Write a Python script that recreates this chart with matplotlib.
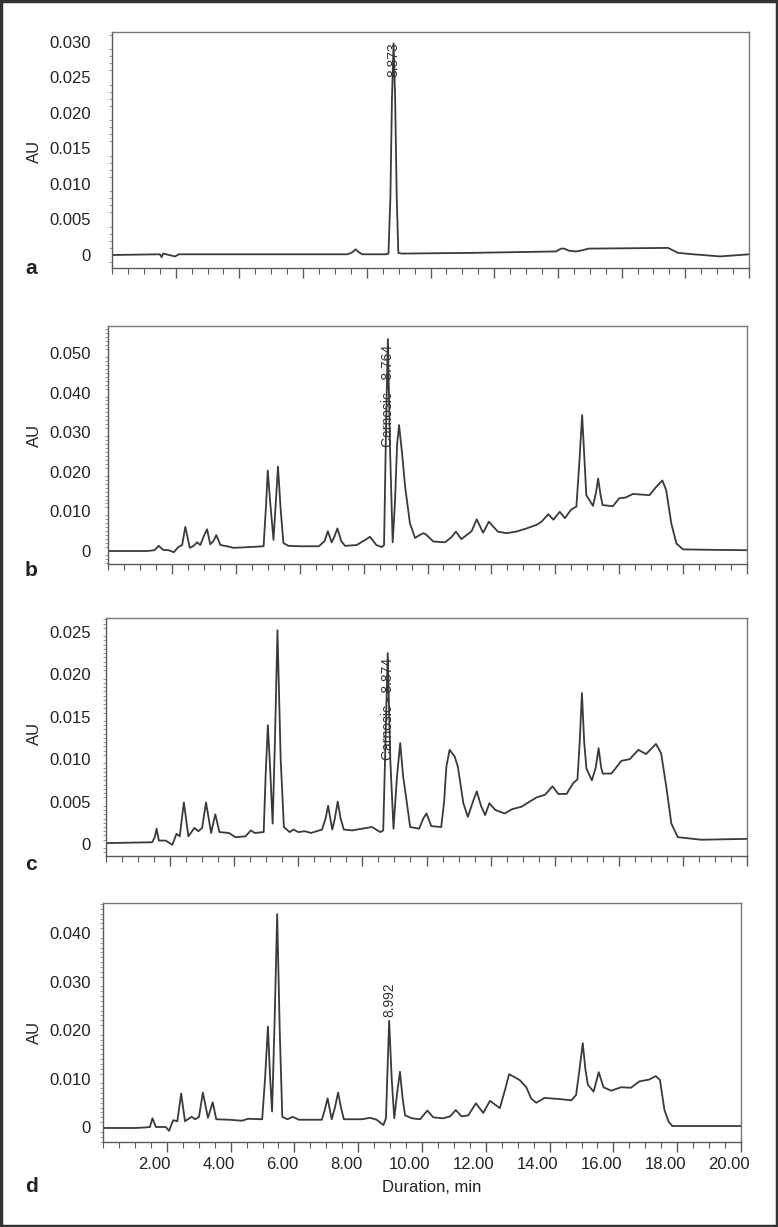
import matplotlib
matplotlib.use("Agg")
import matplotlib.pyplot as plt
from matplotlib.patches import Rectangle
from matplotlib.ticker import MultipleLocator, FixedLocator, FuncFormatter
from matplotlib.transforms import ScaledTranslation

# ---- data (time in min, absorbance in AU) ----
t_a = [0, 1.5, 1.56, 1.6, 1.7, 1.98, 2.1, 7.4, 7.55, 7.65, 7.75, 7.86, 8.6, 8.68,
       8.74, 8.79, 8.84, 8.89, 8.94, 8.99, 9.1, 11.3, 13.94, 14.1, 14.2, 14.35,
       14.57, 14.8, 14.96, 17.46, 17.77, 18.25, 19.1, 20.0]
au_a = [0, 0.0001, -0.0003, 0.0002, 0.0001, -0.0002, 0.0001, 0.0001, 0.0004, 0.0008,
        0.0004, 0.0001, 0.0001, 0.0002, 0.008, 0.022, 0.0298, 0.022, 0.008, 0.0003,
        0.0002, 0.0003, 0.0005, 0.0009, 0.0009, 0.0006, 0.0005, 0.0007, 0.0009,
        0.001, 0.0003, 0.0001, -0.0002, 0.0001]

t_b = [0, 1.22, 1.45, 1.59, 1.72, 1.9, 2.06, 2.2, 2.32, 2.42, 2.56, 2.68, 2.79, 2.89,
       2.99, 3.10, 3.2, 3.30, 3.39, 3.52, 3.73, 3.93, 4.45, 4.87, 4.95, 5.0, 5.08,
       5.18, 5.25, 5.32, 5.40, 5.49, 5.65, 6.0, 6.6, 6.78, 6.88, 7.0, 7.08, 7.18,
       7.3, 7.42, 7.78, 8.05, 8.2, 8.4, 8.57, 8.64, 8.70, 8.76, 8.83, 8.91, 8.98,
       9.05, 9.11, 9.2, 9.3, 9.45, 9.61, 9.75, 9.87, 9.95, 10.18, 10.55, 10.75,
       10.89, 11.06, 11.38, 11.54, 11.74, 11.92, 12.2, 12.47, 12.78, 13.1, 13.41,
       13.57, 13.78, 13.94, 14.14, 14.3, 14.5, 14.66, 14.75, 14.84, 14.92, 14.97,
       15.18, 15.28, 15.34, 15.42, 15.48, 15.8, 16.0, 16.2, 16.43, 16.95, 17.16,
       17.35, 17.47, 17.63, 17.79, 18.0, 18.9, 20.0]
au_b = [0, 0, 0.0002, 0.0013, 0.0003, 0.0002, -0.0003, 0.001, 0.0015, 0.0061, 0.0008,
        0.0013, 0.0022, 0.0015, 0.0036, 0.0055, 0.0017, 0.0025, 0.0040, 0.0015,
        0.0012, 0.0008, 0.001, 0.0012, 0.012, 0.0203, 0.012, 0.0028, 0.012, 0.0213,
        0.011, 0.002, 0.0013, 0.0012, 0.0012, 0.0025, 0.0050, 0.0022, 0.0035, 0.0057,
        0.0025, 0.0013, 0.0015, 0.0028, 0.0036, 0.0015, 0.001, 0.0015, 0.03, 0.0535,
        0.025, 0.0022, 0.012, 0.027, 0.0318, 0.025, 0.0162, 0.007, 0.0033, 0.004,
        0.0045, 0.0042, 0.0024, 0.0022, 0.0035, 0.0049, 0.0030, 0.005, 0.0080,
        0.0046, 0.0074, 0.0049, 0.0045, 0.0049, 0.0057, 0.0066, 0.0074, 0.0093,
        0.0079, 0.0099, 0.0083, 0.0105, 0.0112, 0.022, 0.0343, 0.022, 0.0141, 0.0114,
        0.015, 0.0183, 0.014, 0.0116, 0.0113, 0.0133, 0.0135, 0.0144, 0.0141, 0.0162,
        0.0178, 0.0154, 0.0070, 0.0019, 0.0004, 0.0003, 0.0002]

t_c = [0, 1.44, 1.52, 1.58, 1.65, 1.86, 2.07, 2.2, 2.3, 2.43, 2.57, 2.76, 2.88, 3.0,
       3.12, 3.28, 3.41, 3.54, 3.83, 4.04, 4.35, 4.52, 4.64, 4.92, 4.98, 5.05, 5.12,
       5.2, 5.27, 5.35, 5.45, 5.55, 5.73, 5.85, 6.0, 6.2, 6.4, 6.74, 6.85, 6.93,
       7.06, 7.14, 7.23, 7.32, 7.42, 7.68, 7.99, 8.3, 8.56, 8.65, 8.72, 8.79, 8.87,
       8.97, 9.08, 9.18, 9.27, 9.36, 9.49, 9.77, 9.9, 10.0, 10.15, 10.46, 10.55,
       10.62, 10.72, 10.88, 10.98, 11.15, 11.29, 11.45, 11.57, 11.7, 11.83, 11.96,
       12.15, 12.44, 12.67, 12.97, 13.18, 13.44, 13.7, 13.93, 14.11, 14.37, 14.58,
       14.71, 14.78, 14.85, 14.92, 14.99, 15.16, 15.28, 15.37, 15.45, 15.5, 15.77,
       16.08, 16.34, 16.61, 16.85, 17.16, 17.32, 17.48, 17.64, 17.84, 18.57, 20.0]
au_c = [0.0001, 0.0002, 0.0008, 0.0018, 0.0004, 0.0004, -0.0001, 0.0012, 0.0009,
        0.0049, 0.0009, 0.0019, 0.0015, 0.0019, 0.0049, 0.0013, 0.0035, 0.0014,
        0.0013, 0.0008, 0.0009, 0.0016, 0.0013, 0.0014, 0.008, 0.0140, 0.009, 0.0024,
        0.012, 0.0252, 0.010, 0.002, 0.0014, 0.0017, 0.0014, 0.0015, 0.0013, 0.0017,
        0.003, 0.0045, 0.0017, 0.003, 0.0050, 0.003, 0.0017, 0.0016, 0.0018, 0.002,
        0.0014, 0.0016, 0.012, 0.0225, 0.010, 0.0018, 0.008, 0.0119, 0.008, 0.0056,
        0.002, 0.0018, 0.003, 0.0036, 0.0021, 0.002, 0.005, 0.0091, 0.0111, 0.0103,
        0.0091, 0.0048, 0.0032, 0.005, 0.0062, 0.0045, 0.0034, 0.0048, 0.0040,
        0.0036, 0.0041, 0.0044, 0.0049, 0.0055, 0.0058, 0.0068, 0.0059, 0.0059,
        0.0072, 0.0076, 0.012, 0.0178, 0.012, 0.0089, 0.0075, 0.009, 0.0113, 0.009,
        0.0083, 0.0083, 0.0098, 0.0100, 0.0111, 0.0106, 0.0118, 0.0107, 0.0068,
        0.0024, 0.0008, 0.0005, 0.0006]

t_d = [0, 1.03, 1.3, 1.47, 1.55, 1.66, 1.97, 2.07, 2.2, 2.33, 2.45, 2.57, 2.78, 2.89,
       3.01, 3.13, 3.29, 3.44, 3.55, 3.95, 4.36, 4.55, 4.99, 5.08, 5.17, 5.24, 5.3,
       5.38, 5.46, 5.54, 5.62, 5.78, 5.95, 6.14, 6.86, 6.95, 7.04, 7.17, 7.27, 7.37,
       7.46, 7.55, 8.11, 8.37, 8.58, 8.79, 8.87, 8.92, 8.97, 9.05, 9.13, 9.22, 9.31,
       9.39, 9.47, 9.68, 9.94, 10.17, 10.35, 10.67, 10.88, 11.06, 11.24, 11.45,
       11.69, 11.92, 12.13, 12.44, 12.6, 12.73, 13.06, 13.27, 13.42, 13.58, 13.84,
       14.05, 14.42, 14.68, 14.83, 14.94, 15.04, 15.12, 15.2, 15.38, 15.54, 15.69,
       15.93, 16.24, 16.55, 16.81, 17.13, 17.33, 17.46, 17.6, 17.73, 17.85, 20.0]
au_d = [-0.0002, -0.0002, -0.0001, 0, 0.0018, 0, 0, -0.0008, 0.0014, 0.0012, 0.0069,
        0.0012, 0.0021, 0.0016, 0.0021, 0.0071, 0.0019, 0.0051, 0.0016, 0.0015,
        0.0013, 0.0017, 0.0016, 0.010, 0.0207, 0.010, 0.0032, 0.022, 0.0439, 0.020,
        0.0021, 0.0016, 0.0021, 0.0015, 0.0015, 0.0035, 0.0059, 0.0016, 0.004,
        0.0071, 0.004, 0.0016, 0.0016, 0.0019, 0.0015, 0.0004, 0.0018, 0.012, 0.0219,
        0.010, 0.0018, 0.007, 0.0114, 0.006, 0.0024, 0.0018, 0.0016, 0.0034, 0.002,
        0.0018, 0.0022, 0.0035, 0.0022, 0.0024, 0.0049, 0.0029, 0.0054, 0.0039,
        0.0076, 0.0109, 0.0097, 0.0082, 0.0059, 0.0050, 0.0060, 0.0059, 0.0057,
        0.0055, 0.0066, 0.012, 0.0173, 0.012, 0.0087, 0.0073, 0.0113, 0.0082, 0.0075,
        0.0082, 0.0081, 0.0094, 0.0098, 0.0105, 0.0097, 0.0035, 0.0011, 0.0002, 0.0002]

panel_letters = ["a", "b", "c", "d"]
y_ticks = [
    [0, 0.005, 0.010, 0.015, 0.020, 0.025, 0.030],
    [0, 0.010, 0.020, 0.030, 0.040, 0.050],
    [0, 0.005, 0.010, 0.015, 0.020, 0.025],
    [0, 0.010, 0.020, 0.030, 0.040],
]
x_ticks = [2, 4, 6, 8, 10, 12, 14, 16, 18, 20]
x_tick_labels = ["2.00", "4.00", "6.00", "8.00", "10.00", "12.00", "14.00",
                 "16.00", "18.00", "20.00"]

# peak labels: (time, AU at text bottom, text)
peak_labels = [
    (8.84, 0.0250, "8.873"),
    (8.76, 0.0262, "Carnosic - 8.764"),
    (8.80, 0.0099, "Carnosic - 8.874"),
    (8.98, 0.0227, "8.992"),
]

W, H = 778, 1227
# axes boxes in pixels: left, right, top, bottom
boxes = [(112, 749, 32, 268), (108, 747, 326, 564), (106, 747, 618, 856), (103, 741, 903, 1142)]
y_limits = [(-0.00183, 0.0314), (-0.00328, 0.0568), (-0.00142, 0.02665), (-0.00309, 0.0462)]
y_minor = [0.001, 0.001, 0.0005, 0.001]
letter_y = [268, 571, 865, 1186]
au_y = [151, 435, 733, 1032]

FONT = ["Liberation Sans", "DejaVu Sans"]
LINE = "#3a3a3a"
SPINE = "#5a5a5a"
TEXT = "#222222"


def fmt_au(v, pos=None):
    return "0" if abs(v) < 1e-12 else f"{v:.3f}"


def main() -> int:
    plt.rcParams["font.family"] = FONT
    fig = plt.figure(figsize=(W / 100, H / 100), dpi=100)

    series = [(t_a, au_a), (t_b, au_b), (t_c, au_c), (t_d, au_d)]
    for i, (ts, ys) in enumerate(series):
        left, right, top, bottom = boxes[i]
        ax = fig.add_axes([left / W, 1 - bottom / H, (right - left) / W, (bottom - top) / H])
        ax.plot(ts, ys, color=LINE, linewidth=1.3)
        ax.set_xlim(0, 20)
        ax.set_ylim(*y_limits[i])

        for s in ax.spines.values():
            s.set_color(SPINE)
            s.set_linewidth(1.0)
        ax.spines["top"].set_color("#777777")
        ax.spines["right"].set_color("#777777")

        ax.xaxis.set_major_locator(FixedLocator(x_ticks))
        ax.xaxis.set_minor_locator(MultipleLocator(0.5))
        ax.tick_params(axis="x", which="major", direction="out", length=7, width=1.0,
                       color=SPINE, pad=4, labelsize=12, labelcolor=TEXT)
        ax.tick_params(axis="x", which="minor", direction="out", length=4, width=0.8,
                       color=SPINE)
        if i == 3:
            ax.set_xticklabels(x_tick_labels)
            shift = ScaledTranslation(-12 / 100, 0, fig.dpi_scale_trans)
            for lab in ax.get_xticklabels():
                lab.set_transform(lab.get_transform() + shift)
        else:
            ax.set_xticklabels([])

        ax.yaxis.set_major_locator(FixedLocator(y_ticks[i]))
        ax.yaxis.set_minor_locator(MultipleLocator(y_minor[i]))
        ax.yaxis.set_major_formatter(FuncFormatter(fmt_au))
        pad = (left - 91) * 0.72
        ax.tick_params(axis="y", which="major", direction="out", length=0, pad=pad,
                       labelsize=12, labelcolor=TEXT)
        ax.tick_params(axis="y", which="minor", direction="out", length=2.5, width=0.6,
                       color="#888888")

        xt, yt, txt = peak_labels[i]
        ax.text(xt, yt, txt, rotation=90, ha="center", va="bottom", fontsize=10,
                color="#333333")

        fig.text(31 / W, 1 - letter_y[i] / H, panel_letters[i], ha="center", va="center",
                 fontsize=15, fontweight="bold", color=TEXT)
        fig.text(34 / W, 1 - au_y[i] / H, "AU", rotation=90, ha="center", va="center",
                 fontsize=12, color=TEXT)

    fig.text(432 / W, 1 - 1187 / H, "Duration, min", ha="center", va="center",
             fontsize=12, color=TEXT)

    fig.patches.append(Rectangle((0.001, 0.001), 0.998, 0.998, transform=fig.transFigure,
                                 fill=False, edgecolor="#333333", linewidth=2.5))
    fig.savefig("out.png", dpi=100)
    return 0


if __name__ == "__main__":
    raise SystemExit(main())
